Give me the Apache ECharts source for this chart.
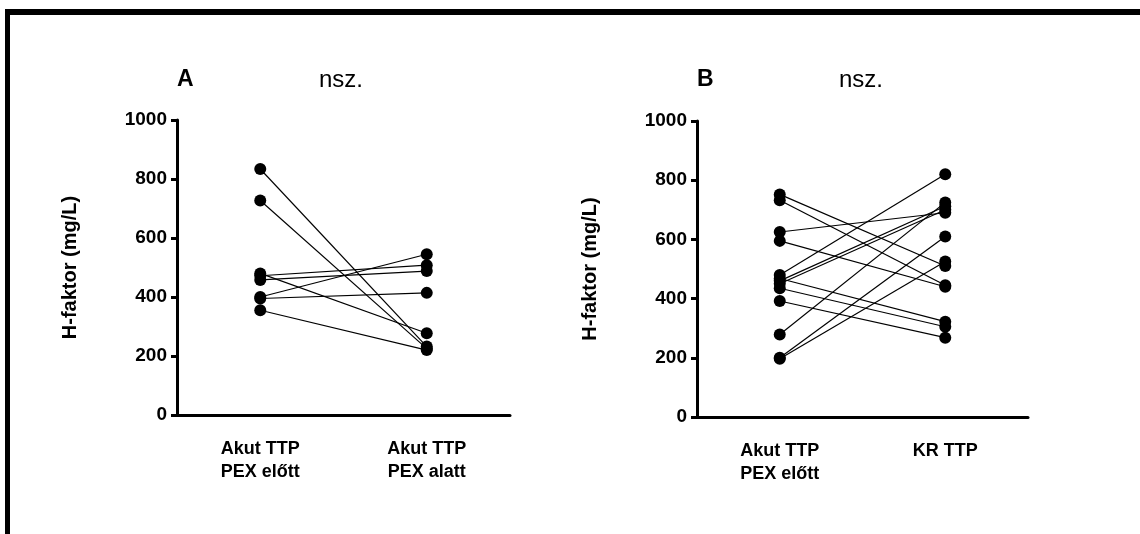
<!DOCTYPE html>
<html>
<head>
<meta charset="utf-8">
<script src="https://cdn.jsdelivr.net/npm/echarts@6/dist/echarts.min.js"></script>
<style>
  html, body { margin: 0; padding: 0; background: #fff; }
  #main { width: 1140px; height: 534px; }
</style>
</head>
<body>
<div id="main"></div>
<script>
// Panel A: paired values, before PEX / during PEX
var catsA = ['Akut TTP\nPEX előtt', 'Akut TTP\nPEX alatt']
var aBefore = [834, 727, 480, 472, 458, 400, 395, 355]
var aDuring = [232, 225, 277, 508, 488, 545, 414, 220]

// Panel B: acute before PEX / KR TTP
var catsB = ['Akut TTP\nPEX előtt', 'KR TTP']
var bBefore = [752, 732, 625, 595, 480, 468, 460, 450, 435, 392, 279, 200, 197]
var bKr = [510, 445, 690, 440, 820, 322, 712, 700, 305, 268, 725, 610, 525]

var yTicks = [0, 200, 400, 600, 800, 1000]

var font = 'Arial, "Liberation Sans", sans-serif'

function pairSeries (before, after, axisIdx) {
  var list = []
  for (var i = 0; i < before.length; i++) {
    list.push({
      type: 'line',
      xAxisIndex: axisIdx,
      yAxisIndex: axisIdx,
      data: [before[i], after[i]],
      symbol: 'circle',
      symbolSize: 12,
      silent: true,
      itemStyle: { color: '#000' },
      lineStyle: { color: '#000', width: 1.2 }
    })
  }
  return list
}

function yAxis (grid) {
  return {
    type: 'value',
    gridIndex: grid,
    min: yTicks[0],
    max: yTicks[yTicks.length - 1],
    interval: 200,
    name: 'H-faktor (mg/L)',
    nameLocation: 'middle',
    nameGap: 97,
    nameTextStyle: { fontFamily: font, fontWeight: 'bold', fontSize: 20, color: '#000' },
    axisLine: { show: true, lineStyle: { color: '#000', width: 3 } },
    axisTick: { show: true, length: 6, lineStyle: { color: '#000', width: 3 } },
    axisLabel: {
      fontFamily: font, fontWeight: 'bold', fontSize: 19, color: '#000', margin: 10,
      formatter: function (v) { return String(v) }
    },
    splitLine: { show: false }
  }
}

function xAxis (grid, cats) {
  return {
    type: 'category',
    gridIndex: grid,
    data: cats,
    boundaryGap: true,
    axisLine: { lineStyle: { color: '#000', width: 3 } },
    axisTick: { alignWithLabel: true, length: 6, lineStyle: { color: '#000', width: 3 } },
    axisLabel: { fontFamily: font, fontWeight: 'bold', fontSize: 18, color: '#000', lineHeight: 23, margin: 23 },
    splitLine: { show: false }
  }
}

var chart = echarts.init(document.getElementById('main'))
chart.setOption({
  backgroundColor: '#fff',
  animation: false,
  title: [
    { text: 'A', left: 172, top: 63, textStyle: { fontFamily: font, fontWeight: 'bold', fontSize: 23, color: '#000' } },
    { text: 'nsz.', left: 314, top: 63, textStyle: { fontFamily: font, fontWeight: 'normal', fontSize: 24, color: '#000' } },
    { text: 'B', left: 692, top: 63, textStyle: { fontFamily: font, fontWeight: 'bold', fontSize: 23, color: '#000' } },
    { text: 'nsz.', left: 834, top: 63, textStyle: { fontFamily: font, fontWeight: 'normal', fontSize: 24, color: '#000' } }
  ],
  grid: [
    { left: 177, width: 333, top: 120, height: 295 },
    { left: 697, width: 331, top: 121, height: 296 }
  ],
  xAxis: [xAxis(0, catsA), xAxis(1, catsB)],
  yAxis: [yAxis(0), yAxis(1)],
  graphic: [
    { type: 'rect', shape: { x: 5, y: 9, width: 1135, height: 6 }, style: { fill: '#000' } },
    { type: 'rect', shape: { x: 5, y: 9, width: 5, height: 525 }, style: { fill: '#000' } }
  ],
  series: pairSeries(aBefore, aDuring, 0).concat(pairSeries(bBefore, bKr, 1))
})
</script>
</body>
</html>
